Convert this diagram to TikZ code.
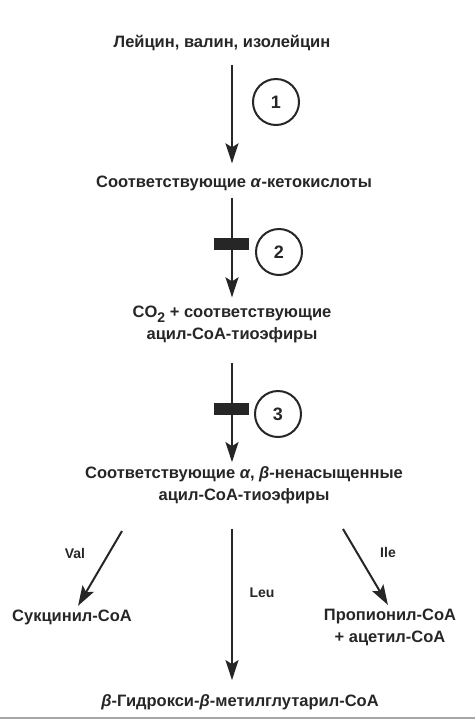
\documentclass[tikz,border=0pt]{standalone}
\usepackage{fontspec}
\setmainfont{Liberation Sans}
\usetikzlibrary{arrows.meta}
\definecolor{ink}{gray}{0.15}
\newcommand{\lowtwo}{\raisebox{-5pt}{\fontsize{14}{14}\selectfont 2}}
\tikzset{
  txt/.style={font=\bfseries\fontsize{16.5}{22}\selectfont, align=center, inner sep=0pt, text=ink},
  lbl/.style={font=\bfseries\fontsize{14}{16}\selectfont, inner sep=0pt, text=ink},
  arr/.style={line width=2pt, draw=ink, -{Stealth[length=20pt,width=13pt,inset=4pt]}},
  stepno/.style={circle, draw=ink, line width=2pt, minimum size=46pt, inner sep=0pt, text=ink, font=\bfseries\fontsize{18}{18}\selectfont},
  blocker/.style={fill=ink, minimum width=35pt, minimum height=12pt, inner sep=0pt}
}

\begin{document}
\begin{tikzpicture}[x=1pt,y=-1pt]
\useasboundingbox (0,0) rectangle (475,721);
\coordinate (axis) at (232,0);

\node[txt] (src) at (222,43) {Лейцин, валин, изолейцин};
\node[txt] (keto) at (234,183) {Соответствующие \textit{α}-кетокислоты};
\node[txt] (acyl) at (232,324) {CO\lowtwo{} + соответствующие\\ацил-СоА-тиоэфиры};
\node[txt] (unsat) at (244,485) {Соответствующие \textit{α}, \textit{β}-ненасыщенные\\ацил-СоА-тиоэфиры};
\node[txt] (succ) at (72,617) {Сукцинил-СоА};
\node[txt] (prop) at (390,627) {Пропионил-СоА\\+ ацетил-СоА};
\node[txt] (hmg) at (240,702) {\textit{β}-Гидрокси-\textit{β}-метилглутарил-СоА};

\draw[arr, shorten <=14pt, shorten >=12pt] (src.south -| axis) -- (keto.north -| axis);
\node[stepno] (e1) at (276,102) {1};

\draw[arr, shorten <=7pt, shorten >=8pt] (keto.south -| axis) -- (acyl.north -| axis);
\node[blocker] (blk2) at (231,244) {};
\node[stepno] (e2) at (279,252) {2};

\draw[arr, shorten <=20pt, shorten >=4pt] (acyl.south -| axis) -- (unsat.north -| axis);
\node[blocker] (blk3) at (231,409) {};
\node[stepno] (e3) at (278,414) {3};

\coordinate (valtop) at (122,531);
\coordinate (iletop) at (343,529);
\draw[arr, shorten >=4pt] (valtop) -- ([xshift=4pt]succ.north);
\draw[arr, shorten <=25pt, shorten >=14pt] (unsat.south -| axis) -- (hmg.north -| axis);
\draw[arr, shorten >=4pt] (iletop) -- (prop.north);
\node[lbl] (lval) at (75,553) {Val};
\node[lbl] (lleu) at (262,593) {Leu};
\node[lbl] (lile) at (388,552) {Ile};

\draw[gray!70, line width=1.5pt] (0,718) -- (475,718);
\end{tikzpicture}
\end{document}
